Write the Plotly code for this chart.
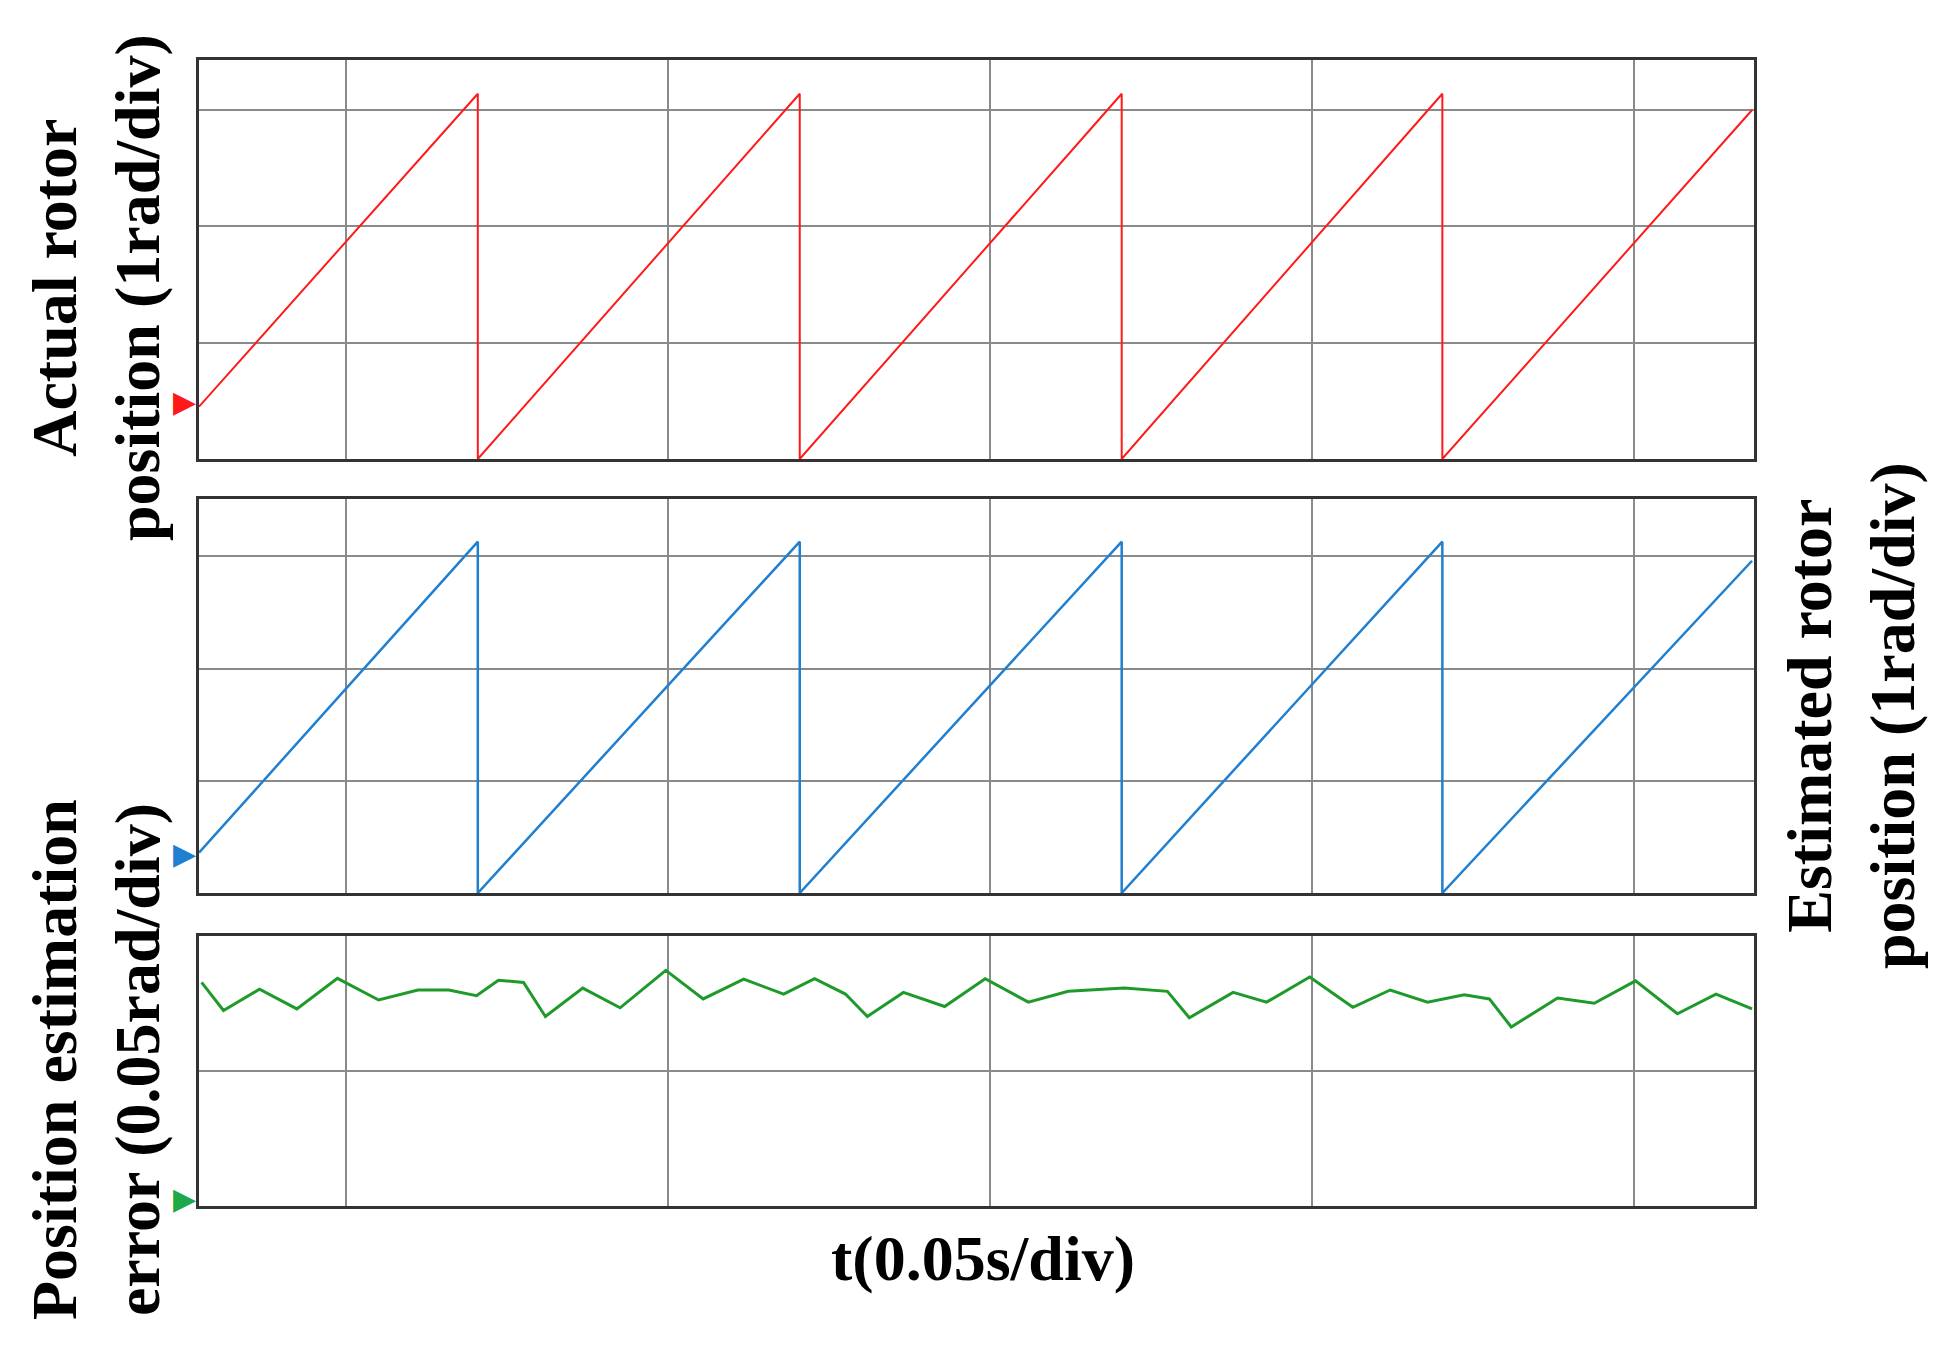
import plotly.graph_objects as go

# ---- data ----
period_s = 0.05
peak_times = [0.0433, 0.0933, 0.1433, 0.1931]
t_end = 0.2412
actual_start, actual_peak, actual_end = 0.45, 3.14, 3.0
est_start, est_peak, est_end = 0.36, 3.13, 2.96

err_t = [0.0004,0.0038,0.0094,0.0152,0.0215,0.0279,0.0340,0.0388,0.0431,0.0465,0.0504,0.0538,
         0.0596,0.0654,0.0725,0.0783,0.0846,0.0908,0.0956,0.1004,0.1038,0.1094,0.1158,0.1221,
         0.1288,0.1350,0.1437,0.1504,0.1538,0.1606,0.1658,0.1725,0.1792,0.1850,0.1908,0.1965,
         0.2004,0.2038,0.2110,0.2167,0.2231,0.2296,0.2356,0.2412]
err_v = [0.0828,0.0724,0.0803,0.073,0.0843,0.0763,0.08,0.08,0.0779,0.0836,0.0828,0.0702,
         0.0807,0.0734,0.0873,0.0767,0.084,0.0785,0.0842,0.0785,0.0702,0.0791,0.0739,0.0842,
         0.0755,0.0795,0.0807,0.0795,0.0697,0.0791,0.0755,0.0848,0.0736,0.08,0.0755,0.0782,
         0.0767,0.0663,0.077,0.0751,0.0834,0.0712,0.0785,0.073]

def saw(start, peak, end):
    xs, ys = [0.0], [start]
    for p in peak_times:
        xs += [p, p]
        ys += [peak, 0.0]
    xs.append(t_end); ys.append(end)
    return xs, ys

W, H = 1950, 1363
fig = go.Figure()
ax, ay = saw(actual_start, actual_peak, actual_end)
ex, ey = saw(est_start, est_peak, est_end)
fig.add_trace(go.Scatter(x=ax, y=ay, mode="lines", line=dict(color="#ff1a1a", width=2), xaxis="x", yaxis="y"))
fig.add_trace(go.Scatter(x=ex, y=ey, mode="lines", line=dict(color="#1f7fd0", width=2.5), xaxis="x2", yaxis="y2"))
fig.add_trace(go.Scatter(x=err_t, y=err_v, mode="lines", line=dict(color="#1e9a2a", width=3), xaxis="x3", yaxis="y3"))

xdom = [191 / W, 1746 / W]
panels = [(52, 451, [0, 3.43], 1), (491, 885, [0, 3.51], 1), (928, 1198, [0, 0.1], 0.05)]
gridx = [0.02288 + period_s * k for k in range(5)]
lay = dict(width=W, height=H, margin=dict(l=0, r=0, t=0, b=0), showlegend=False,
           plot_bgcolor="white", paper_bgcolor="white")
for i, (top, bot, yr, dt) in enumerate(panels):
    s = "" if i == 0 else str(i + 1)
    lay["xaxis" + s] = dict(domain=xdom, range=[0, t_end + 0.0003], tickvals=gridx, showticklabels=False,
                            showgrid=True, gridcolor="#8a8a8a", gridwidth=1.5, zeroline=False,
                            showline=True, mirror=True, linecolor="#333", linewidth=3,
                            anchor="y" + s, ticks="")
    lay["yaxis" + s] = dict(domain=[1 - bot / H, 1 - top / H], range=yr, dtick=dt, showticklabels=False,
                            showgrid=True, gridcolor="#8a8a8a", gridwidth=1.5, zeroline=False,
                            showline=True, mirror=True, linecolor="#333", linewidth=3,
                            anchor="x" + s, ticks="")
fig.update_layout(**lay)

font = dict(family="Liberation Serif", size=64, color="black")
anns = [
    dict(text="<b>Actual rotor<br>position (1rad/div)</b>", x=88 / W, y=1 - 280 / H, textangle=-90),
    dict(text="<b>Position estimation<br>error (0.05rad/div)</b>", x=88 / W, y=1 - 1052 / H, textangle=-90),
    dict(text="<b>Estimated rotor<br>position (1rad/div)</b>", x=1843 / W, y=1 - 708 / H, textangle=-90),
    dict(text="<b>t(0.05s/div)</b>", x=975 / W, y=1 - 1250 / H, textangle=0),
]
for a in anns:
    fig.add_annotation(xref="paper", yref="paper", showarrow=False, font=font,
                       xanchor="center", yanchor="middle", **a)
for s, yv, c in [("", 0.5, "#ff1a1a"), ("2", 0.36, "#1f7fd0"), ("3", 0.003, "#1ea84a")]:
    fig.add_annotation(xref="x" + s, yref="y" + s, x=0, y=yv, text="▶", showarrow=False,
                       xanchor="right", yanchor="middle", xshift=-1, font=dict(size=30, color=c))
fig.write_html("out.html")
